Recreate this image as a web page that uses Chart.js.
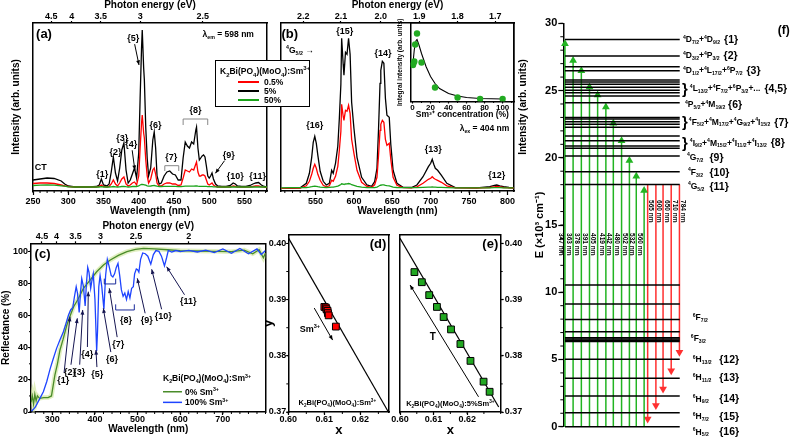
<!DOCTYPE html>
<html>
<head>
<meta charset="utf-8">
<script src="https://cdn.jsdelivr.net/npm/chart.js@4.4.1/dist/chart.umd.min.js"></script>
<style>
  body { margin: 0; background: #fff; }
  #wrap { position: relative; width: 799px; height: 441px; overflow: hidden; background: #fff; }
  canvas { position: absolute; }
  #legA { position: absolute; left: 215px; top: 60px; width: 95px; height: 47px; box-sizing: border-box;
          border: 1px solid #000; background: #fff; z-index: 5;
          font: bold 8.5px 'Liberation Sans', Arial, sans-serif; color: #000; }
  #legA div { position: absolute; white-space: nowrap; line-height: 10px; }
  #legA sub, #legA sup { font-size: 6px; line-height: 0; }
  #legA span { position: absolute; left: 22px; top: 4px; width: 21px; height: 2px; }
</style>
</head>
<body>
<div id="wrap">
  <canvas id="cA" width="272" height="222" style="left:0;top:-2px"></canvas>
  <canvas id="cB" width="262" height="222" style="left:270px;top:-2px"></canvas>
  <canvas id="cI" width="122" height="105" style="left:396px;top:18px"></canvas>
  <canvas id="cC" width="272" height="226" style="left:0;top:215px"></canvas>
  <canvas id="cD" width="145" height="226" style="left:250px;top:215px"></canvas>
  <canvas id="cE" width="150" height="226" style="left:380px;top:215px"></canvas>
  <canvas id="cF" width="269" height="441" style="left:530px;top:0"></canvas>
  <div id="legA">
    <div style="left:4px;top:5px">K<sub>2</sub>Bi(PO<sub>4</sub>)(MoO<sub>4</sub>):Sm<sup>3+</sup></div>
    <div style="left:0;top:16px;width:90px;height:10px"><span style="background:#ff0000"></span><b style="position:absolute;left:48px">0.5%</b></div>
    <div style="left:0;top:25px;width:90px;height:10px"><span style="background:#000"></span><b style="position:absolute;left:48px">5%</b></div>
    <div style="left:0;top:34px;width:90px;height:10px"><span style="background:#1aa31a"></span><b style="position:absolute;left:48px">50%</b></div>
  </div>
</div>
<script>
const FONT = "'Liberation Sans', Arial, sans-serif";

// ============================
// DATA
// ============================

// (a) excitation, lambda_em = 598 nm
const wlA = [250,260,270,280,290,295,300,310,320,330,
             340,344,347,350,355,358,361,364,367,370,
             373,376,379,382,385,388,391,394,397,400,
             402,404,405,407,408,410,412,414,417,420,
             422,424,426,429,432,436,440,444,448,452,
             456,460,463,466,469,472,475,478,481,482,
             484,486,488,490,492,494,496,498,500,502,
             504,506,509,512,518,524,530,534,537,540,
             546,552,558,562,566,570,574,578,582];
const exc5 = [8,9,10,9.5,7,4,2,1,1,1,
              1.5,3,9,3,2,4,16,31,15,7,
              20,38,45,18,5,8,14,20,10,35,
              90,140,158,120,108,60,30,12,20,48,
              56,40,12,4,5,12,16,17,14,13,
              8,8,30,46,42,40,46,44,58,61,
              40,28,30,32,33,31,22,12,10,12,
              15,9,4,2,1.5,1.5,2.5,5,4,2,
              1.5,1.5,2.5,4,5,5.5,3,1.5,1];
const exc05 = [4.5,5,5,4.5,3,2,1.5,1,1,1,
               1,1.5,3,1.5,1,1.5,4,8,4,2,
               5,9,11,4,2,3,5,6,3,12,
               40,65,73,55,50,28,12,5,9,18,
               20,14,5,2,2,4,5,5,4,4,
               2.5,3,10,18,17,16,19,18,24,26,
               16,12,12,13,13,12,8,4,3,4,
               5,3,1.5,1,1,1,1,2,1.5,1,
               0.8,0.8,1,1.5,2,2,1.2,0.8,0.5];
const exc50 = [2.5,2.8,3,2.8,2.2,1.8,1.2,1,1,1,
               1,1,1.3,1,1,1,1.2,1.5,1.2,1,
               1.2,1.5,1.7,1.3,1,1.2,1.5,1.7,1.5,2,
               3,3.5,3.6,3.4,3.2,2.8,2.2,1.8,2,2.4,
               2.5,2.2,1.8,1.5,1.5,1.6,1.7,1.7,1.6,1.6,
               1.4,1.4,1.6,1.8,1.8,1.8,1.9,1.9,2,2,
               1.8,1.7,1.7,1.7,1.7,1.7,1.6,1.4,1.3,1.3,
               1.3,1.2,1.1,1,1,1,1,1.1,1,1,
               1,1,1,1,1,1,1,1,1];
const ticksA = [250,300,350,400,450,500,550];
const evA = ['4.5','4','3.5','3','2.5'];
const evPosA = [276,305,346,402,491];

// (b) emission, lambda_ex = 404 nm
const wlB = [505,520,530,538,542,545,547,549,551,553,
             556,560,564,568,571,573,576,579,581,583,
             584,586,587,589,591,593,595,597,600,604,
             610,617,623,627,630,632,634,635,637,639,
             641,643,646,648,651,656,664,675,682,690,
             697,700,702,704,706,709,714,721,732,760,
             777,783,786,790,795,802,808];
const em5 = [0,0.3,0.5,5,15,31,46,52,45,33,
             17,7,3.3,5,18,15,25,42,70,104,
             150,124,113,136,134,150,134,86,60,31,
             11,3.3,2,6.6,20,58,105,118,127,125,
             90,73,71,44,18,5,1,0.8,3.3,11.6,
             21.6,25,29,24,20,18,13,5,0.7,0.5,
             1.6,3,3.3,2.5,1.6,0.8,0.5];
const em05 = [0,0.2,0.3,2.5,7,14,20,24,20,14,
              8,3,1.5,2.5,8,7,12,22,38,57,
              84,72,68,78,77,83,75,49,35,18,
              6,1.8,1,3.5,11,32,58,64,68,66,
              49,43,45,29,11,3,0.6,0.5,1.5,5,
              9,10,11.6,10,9,8,6,2.5,0.4,0.3,
              0.8,1.5,1.8,1.3,0.8,0.4,0.3];
const em50 = [0.5,0.6,0.6,0.8,1.2,1.6,2,2.2,2,1.6,
              1.2,0.9,0.8,0.9,1.2,1.2,1.6,2.2,3,3.8,
              4.5,4.2,4,4.3,4.4,4.8,4.5,3.6,3,2,
              1.2,0.8,0.7,0.8,1.2,2,3,3.3,3.5,3.5,
              3,2.6,2.5,2,1.2,0.8,0.6,0.6,0.7,0.9,
              1.1,1.2,1.3,1.2,1.1,1,0.9,0.7,0.5,0.5,
              0.5,0.6,0.6,0.6,0.5,0.5,0.5];
const ticksB = [550,600,650,700,750,800];
const evB = ['2.2','2.1','2.0','1.9','1.8','1.7'];
const evPosB = [534,583,635,685,735,784];

// (b) inset: integral intensity vs Sm3+ concentration
const conc = [0.5,1,2,3,5,10,25,50,75,100];
const integ = [36.5,38,40,57,68,39,14,4,2.5,2.5];
const fitConc = [0.5,2,4,5,7,10,15,20,25,30,40,50,60,75,100];
const fitVal = [38,52,61,62,57,48,35,25,18,13,8,5.5,4,3,2.5];
const ticksI = [0,20,40,60,80,100];

// (c) diffuse reflectance
const wlC0 = [250,253,256,259,262,265,270,280,290,298,
              306,312,318,325,334,342,350,360,373,390,
              404,420,436,455,475,495,514,540,570,600,
              640,680,720,750,770,785,795,800];
const refl0 = [6,10,5,11,7,10,8.5,9,9,10,
               23,30,38.6,45,54,60,65.5,70,77,82.5,
               87.3,91.5,94.6,97.5,99.8,101.2,101.9,101.5,101,100.5,
               100.2,100,99.8,100.8,98.5,101,96,99];
const wlC100 = [251,255,260,265,270,279,287,295,302,310,
                318,326,332,338,343,348,352,356,359,363,
                366,369,373,377,380,383,386,390,393,396,
                400,404,406,409,412,416,421,425,429,433,
                438,442,446,450,454,458,462,466,470,474,
                478,482,486,490,493,497,500,503,507,512,
                518,524,531,537,543,550,556,563,568,572,
                580,590,600,620,640,660,680,700,720,740,
                760,780,790,800];
const refl100 = [0.5,1.5,3,5.5,8,12.6,19,27,33,39.6,
                 45,50,55,60.4,63.5,65,72,78,74,62,
                 74,83,78,66,80,90,87,77,82,86,
                 70,38,50,78,85,78,64,85,95,91,
                 85,84,86,90,92.5,85,76,72,74,70,
                 75,71,77,78,86,89,88.5,87,95,99,
                 98.5,97,92,98,100.5,100,97,91,96,100.5,
                 99.5,100.5,99.8,100.6,99.6,100.8,99.2,101.5,98.8,101.8,
                 98.5,101.5,98,100.5];
const ticksC = [300,400,500,600,700];
const ticksCy = [0,20,40,60,80,100];
const evC = ['4.5','4','3.5','3','2.5','2'];
const evPosC = [275.6,310,354.3,413.3,496,620];

// (d) CIE vs Sm3+ content, (e) CIE vs temperature
const cieDx = [0.6100,0.6104,0.6106,0.6109,0.6110,0.6112,0.6132];
const cieDy = [0.3887,0.3886,0.3883,0.3880,0.3876,0.3872,0.3852];
const lineDx = [0.6001,0.6277];
const lineDy = [0.4009,0.3701];
const cieEx = [0.6043,0.6065,0.6087,0.6110,0.6130,0.6152,0.6180,0.6210,0.6249,0.6267];
const cieEy = [0.3949,0.3931,0.3908,0.3887,0.3869,0.3847,0.3821,0.3791,0.3754,0.3736];
const lineEx = [0.6000,0.6294];
const lineEy = [0.4009,0.3709];
const ticksXY = [0.60,0.61,0.62];
const ticksYY = [0.37,0.38,0.39,0.40];

// (f) energy levels (x10^3 cm-1)
const fLevels = [28.8,27.56,26.77,26.47,25.78,25.63,25.46,25.24,25.03,24.83,24.59,24.09,
                 23.0,22.88,22.68,22.5,22.27,21.61,21.26,20.87,20.7,20.13,18.96,18.02,
                 10.54,9.12,7.98,7.06,6.62,6.52,6.42,6.33,5.01,3.6,2.28,1.04,0];
const exX = [1.7,10,18.4,26.7,35,43.4,51,59.4,67.4,74.4,82.4];
const exTop = [28.8,27.56,26.8,25.6,25.0,24.1,22.9,21.6,20.13,18.96,17.9];
const exNm = ['347 nm','363 nm','378 nm','391 nm','405 nm','419 nm','442 nm','480 nm','502 nm','532 nm','560 nm'];
const emX = [86,94.4,101.7,110,118.4];
const emFrom = 18.02;
const emEnd = [0.25,1.24,2.48,3.84,5.2];
const emNm = ['565 nm','600 nm','650 nm','710 nm','784 nm'];
const fTerm = ['^4D_{7/2}+^4D_{9/2}','^4D_{3/2}+^4P_{3/2}','^4D_{1/2}+^4L_{17/2}+^6P_{7/2}',
               '^4L_{13/2}+^4F_{7/2}+^6P_{3/2}+...','^4P_{5/2}+^4M_{19/2}',
               '^4F_{5/2}+^4M_{17/2}+^4G_{9/2}+^4I_{15/2}','^4I_{9/2}+^4M_{15/2}+^4I_{11/2}+^4I_{13/2}',
               '^4G_{7/2}','^4F_{3/2}','^4G_{5/2}','^6F_{7/2}','^6F_{3/2}',
               '^6H_{13/2}','^6H_{11/2}','^6H_{9/2}','^6H_{7/2}','^6H_{5/2}'];
const fIdx = ['{1}','{2}','{3}','{4,5}','{6}','{7}','{8}','{9}','{10}','{11}','','',
              '{12}','{13}','{14}','{15}','{16}'];
const fBrace = [0,0,0,1,0,1,1,0,0,0,0,0,0,0,0,0,0];
const fLabE = [28.8,27.64,26.52,25.16,23.99,22.68,21.12,20.07,18.96,17.9,8.13,6.57,5.01,3.67,2.09,0.79,-0.37];
const fLabX = [122,122,122,129,124,128,129,126,127,127,132,130,132,132,132,132,132];
const fIdxX = [null,null,null,null,168,null,null,149,149,149,null,null,159,159,159,159,159];


// ============================
// HELPERS
// ============================

Chart.defaults.font.family = FONT;
Chart.defaults.font.weight = 'bold';
Chart.defaults.font.size = 9;
Chart.defaults.color = '#000';
Chart.defaults.animation = false;
Chart.defaults.responsive = false;
Chart.defaults.devicePixelRatio = 1;
Chart.defaults.events = [];
Chart.defaults.plugins.legend.display = false;
Chart.defaults.plugins.tooltip.enabled = false;
Chart.defaults.elements.point.radius = 0;

function drawRich(ctx, str, x, y, size, align, rot, smallK) {
    const segs = [];
    let buf = '';
    for (let i = 0; i < str.length; i++) {
        const c = str[i];
        if (c === '^' || c === '_') {
            if (buf) segs.push({ t: buf, k: 0 });
            buf = '';
            let t;
            if (str[i + 1] === '{') {
                const j = str.indexOf('}', i);
                t = str.slice(i + 2, j);
                i = j;
            } else {
                t = str[i + 1];
                i++;
            }
            segs.push({ t: t, k: c === '^' ? 1 : -1 });
        } else {
            buf += c;
        }
    }
    if (buf) segs.push({ t: buf, k: 0 });

    const small = size * (smallK || 0.62);
    let w = 0;
    segs.forEach(s => {
        ctx.font = 'bold ' + (s.k ? small : size) + 'px ' + FONT;
        s.w = ctx.measureText(s.t).width;
        w += s.w;
    });
    ctx.save();
    ctx.translate(x, y);
    if (rot) ctx.rotate(rot);
    ctx.textAlign = 'left';
    ctx.textBaseline = 'alphabetic';
    let cx = align === 'left' ? 0 : align === 'right' ? -w : -w / 2;
    const base = size * 0.36;
    segs.forEach(s => {
        ctx.font = 'bold ' + (s.k ? small : size) + 'px ' + FONT;
        const dy = s.k === 1 ? -size * 0.42 : s.k === -1 ? size * 0.2 : 0;
        ctx.fillText(s.t, cx, base + dy);
        cx += s.w;
    });
    ctx.restore();
    return w;
}

function arrow(ctx, x1, y1, x2, y2, head) {
    ctx.beginPath();
    ctx.moveTo(x1, y1);
    ctx.lineTo(x2, y2);
    ctx.stroke();
    const a = Math.atan2(y2 - y1, x2 - x1);
    ctx.beginPath();
    ctx.moveTo(x2, y2);
    ctx.lineTo(x2 - head * Math.cos(a - 0.4), y2 - head * Math.sin(a - 0.4));
    ctx.lineTo(x2 - head * Math.cos(a + 0.4), y2 - head * Math.sin(a + 0.4));
    ctx.closePath();
    ctx.fill();
}

const notes = {};
const minor = {};

const notesPlugin = {
    id: 'notes',
    afterDraw(chart) {
        const items = notes[chart.canvas.id];
        if (!items) return;
        const ctx = chart.ctx;
        const X = chart.scales.x, Y = chart.scales.y;
        const px = v => X.getPixelForValue(v);
        const py = v => Y.getPixelForValue(v);
        ctx.save();
        items.forEach(it => {
            const c = it.c || '#000';
            ctx.fillStyle = c;
            ctx.strokeStyle = c;
            ctx.lineWidth = it.w || 1;
            if (it.k === 't') {
                drawRich(ctx, it.s, px(it.x), py(it.y), it.fs || 9, it.al || 'center', it.rot || 0);
            } else if (it.k === 'la') {
                const lx = px(it.x), ly = py(it.y);
                const x2 = px(it.tx), y2 = py(it.ty);
                drawRich(ctx, it.s, lx, ly, it.fs || 9, 'center', 0);
                ctx.fillStyle = it.ac || '#000';
                ctx.strokeStyle = it.ac || '#000';
                const d = Math.hypot(x2 - lx, y2 - ly);
                arrow(ctx, lx + (x2 - lx) * 7 / d, ly + (y2 - ly) * 7 / d, x2, y2, 5);
            } else if (it.k === 'a') {
                arrow(ctx, px(it.x), py(it.y), px(it.tx), py(it.ty), 5);
            } else if (it.k === 'b') {
                ctx.beginPath();
                ctx.moveTo(px(it.x1), py(it.y2));
                ctx.lineTo(px(it.x1), py(it.y));
                ctx.lineTo(px(it.x2), py(it.y));
                ctx.lineTo(px(it.x2), py(it.y2));
                ctx.stroke();
            } else if (it.k === 'l') {
                ctx.beginPath();
                ctx.moveTo(px(it.x1), py(it.y1));
                ctx.lineTo(px(it.x2), py(it.y2));
                ctx.stroke();
            } else if (it.k === 'lv') {
                const w = drawRich(ctx, it.s, px(it.x), py(it.y), 8.5, 'left', 0, 0.6);
                const nx = it.nx === null ? px(it.x) + w + 4 : px(it.nx);
                drawRich(ctx, it.n, nx, py(it.y), 10.5, 'left', 0);
            }
        });
        ctx.restore();
    }
};

// short ticks between the labelled ones
const minorPlugin = {
    id: 'minorTicks',
    afterDraw(chart) {
        const spec = minor[chart.canvas.id];
        if (!spec) return;
        const ctx = chart.ctx;
        const a = chart.chartArea;
        ctx.save();
        ctx.strokeStyle = '#000';
        ctx.lineWidth = 1;
        spec.forEach(([id, step, len]) => {
            const s = chart.scales[id];
            const n0 = Math.ceil(s.min / step - 1e-9), n1 = Math.floor(s.max / step + 1e-9);
            for (let n = n0; n <= n1; n++) {
                const p = s.getPixelForValue(n * step);
                ctx.beginPath();
                if (s.position === 'bottom') { ctx.moveTo(p, a.bottom); ctx.lineTo(p, a.bottom + len); }
                else if (s.position === 'top') { ctx.moveTo(p, a.top); ctx.lineTo(p, a.top - len); }
                else if (s.position === 'left') { ctx.moveTo(a.left, p); ctx.lineTo(a.left - len, p); }
                else { ctx.moveTo(a.right, p); ctx.lineTo(a.right + len, p); }
                ctx.stroke();
            }
        });
        ctx.restore();
    }
};

function ax(o) {
    const hasLabels = !!o.labels;
    const hasTicks = !!(o.ticks && o.ticks.length);
    return {
        type: 'linear',
        position: o.pos,
        min: o.min,
        max: o.max,
        afterBuildTicks: s => { s.ticks = (o.ticks || []).map(v => ({ value: v })); },
        afterFit: s => { if (s.isHorizontal()) s.height = o.size; else s.width = o.size; },
        ticks: {
            display: hasLabels,
            autoSkip: false,
            maxRotation: 0,
            minRotation: 0,
            padding: o.pad || 0,
            color: '#000',
            font: { size: o.fs || 9, weight: 'bold', lineHeight: 1 },
            callback: (v, i) => hasLabels ? o.labels[i] : ''
        },
        grid: { display: true, drawOnChartArea: false, drawTicks: hasTicks, tickLength: o.tl || 3, tickColor: '#000', tickWidth: 1.2 },
        border: { display: true, color: '#000', width: 1.5 },
        title: o.title ? {
            display: true, text: o.title, color: '#000',
            font: { size: o.tfs || 10, weight: 'bold', lineHeight: 1 },
            padding: o.tp || 0
        } : { display: false }
    };
}

function ln(xs, ys, color, w) {
    return {
        data: xs.map((x, i) => ({ x: x, y: ys[i] })),
        showLine: true,
        borderColor: color,
        backgroundColor: color,
        borderWidth: w || 1.3,
        pointRadius: 0,
        tension: 0
    };
}

function pts(xs, ys, fill, style, r) {
    return {
        data: xs.map((x, i) => ({ x: x, y: ys[i] })),
        showLine: false,
        pointStyle: style,
        pointRadius: r,
        backgroundColor: fill,
        borderColor: '#000',
        pointBackgroundColor: fill,
        pointBorderColor: style === 'circle' ? fill : '#000',
        pointBorderWidth: style === 'circle' ? 0 : 1
    };
}

function chart(id, datasets, scales, layout) {
    return new Chart(document.getElementById(id), {
        type: 'scatter',
        data: { datasets: datasets },
        options: { scales: scales, layout: { padding: layout || 0 } },
        plugins: [minorPlugin, notesPlugin]
    });
}


// ============================
// (a) EXCITATION
// ============================

notes.cA = [
    { k: 't', x: 265.6, y: 154.7, s: '(a)', fs: 13 },
    { k: 't', x: 527, y: 154, s: 'λ_{em} = 598 nm', fs: 8.5 },
    { k: 'la', x: 392.2, y: 150.7, s: '{5}', tx: 400.4, ty: 123 },
    { k: 't', x: 423.8, y: 63, s: '{6}' },
    { k: 't', x: 376.6, y: 50.3, s: '{3}' },
    { k: 't', x: 367.1, y: 36.3, s: '{2}' },
    { k: 'la', x: 389.4, y: 44.7, s: '{4}', tx: 394.5, ty: 18 },
    { k: 't', x: 348.3, y: 14.7, s: '{1}' },
    { k: 't', x: 261, y: 21.3, s: 'CT' },
    { k: 't', x: 446, y: 31.3, s: '{7}' },
    { k: 'b', x1: 437, x2: 456.8, y: 22.3, y2: 17, c: '#888' },
    { k: 't', x: 480.5, y: 78, s: '{8}' },
    { k: 'b', x1: 463, x2: 497.9, y: 69, y2: 63, c: '#888' },
    { k: 'la', x: 527.6, y: 33, s: '{9}', tx: 508.8, ty: 14.7 },
    { k: 't', x: 537, y: 12, s: '{10}' },
    { k: 't', x: 568.7, y: 12, s: '{11}' }
];
minor.cA = [['x', 10, 2]];

chart('cA', [
    ln(wlA, exc50, '#1aa31a'),
    ln(wlA, exc05, '#ff0000'),
    ln(wlA, exc5, '#000000')
], {
    x: ax({ pos: 'bottom', min: 250, max: 582, ticks: ticksA, labels: ticksA.map(String), size: 29, tl: 4, pad: 2,
            title: 'Wavelength (nm)', tp: { top: 0, bottom: 3.3 } }),
    x2: ax({ pos: 'top', min: 250, max: 582, ticks: evPosA, labels: evA, size: 25, tl: 2, pad: 0,
             title: 'Photon energy (eV)', tp: { top: 2, bottom: 0 } }),
    y: ax({ pos: 'left', min: -3, max: 165, size: 33, title: 'Intensity (arb. units)', tp: { top: 11.7, bottom: 0 } }),
    yR: ax({ pos: 'right', min: -3, max: 165, size: 5 })
});


// ============================
// (b) EMISSION
// ============================

notes.cB = [
    { k: 't', x: 516.5, y: 155, s: '(b)', fs: 13 },
    { k: 't', x: 529.5, y: 138.3, s: '^4G_{5/2} →', fs: 8.5 },
    { k: 't', x: 549, y: 63.3, s: '{16}' },
    { k: 't', x: 588, y: 158, s: '{15}' },
    { k: 't', x: 638, y: 136, s: '{14}' },
    { k: 't', x: 703.3, y: 40, s: '{13}' },
    { k: 't', x: 786, y: 13.3, s: '{12}' },
    { k: 't', x: 770, y: 60.3, s: 'λ_{ex} = 404 nm', fs: 8.5 },
    { k: 't', x: 819, y: 81.3, s: 'Intensity (arb. units)', fs: 10, rot: -Math.PI / 2 }
];
minor.cB = [['x', 10, 2]];

chart('cB', [
    ln(wlB, em50, '#1aa31a'),
    ln(wlB, em05, '#ff0000'),
    ln(wlB, em5, '#000000')
], {
    x: ax({ pos: 'bottom', min: 505, max: 808.5, ticks: ticksB, labels: ticksB.map(String), size: 29, tl: 4, pad: 2,
            title: 'Wavelength (nm)', tp: { top: 0, bottom: 3.3 } }),
    x2: ax({ pos: 'top', min: 505, max: 808.5, ticks: evPosB, labels: evB, size: 25, tl: 2, pad: 0,
             title: 'Photon energy (eV)', tp: { top: 2, bottom: 0 } }),
    y: ax({ pos: 'left', min: -2.7, max: 165.3, size: 11 }),
    yR: ax({ pos: 'right', min: -2.7, max: 165.3, size: 18 })
});

// inset
minor.cI = [['x', 10, 1.5]];
chart('cI', [
    pts(conc, integ, '#22aa22', 'circle', 3.2),
    ln(fitConc, fitVal, '#000', 1.1)
], {
    x: ax({ pos: 'bottom', min: -2, max: 112.6, ticks: ticksI, labels: ticksI.map(String), size: 21.5, tl: 2, pad: 0, fs: 8,
            title: 'Sm³⁺ concentration (%)', tfs: 8.5, tp: { top: 0, bottom: 4.5 } }),
    x2: ax({ pos: 'top', min: -2, max: 112.6, size: 5 }),
    y: ax({ pos: 'left', min: 0, max: 78.5, size: 14.7, title: 'Integral intensity (arb. units)', tfs: 6.5, tp: { top: 0.5, bottom: 0 } }),
    yR: ax({ pos: 'right', min: 0, max: 78.5, size: 4 })
});


// ============================
// (c) REFLECTANCE
// ============================

const NAVY = '#151550';
notes.cC = [
    { k: 't', x: 277, y: 98.8, s: '(c)', fs: 13 },
    { k: 'la', x: 325.8, y: 19.9, s: '{1}', tx: 341.5, ty: 59.3, ac: NAVY },
    { k: 'la', x: 341.5, y: 25.1, s: '{2}', tx: 358.6, ty: 58.3, ac: NAVY },
    { k: 'la', x: 363.3, y: 25.1, s: '{3}', tx: 371.2, ty: 63.5, ac: NAVY },
    { k: 'la', x: 382, y: 36.1, s: '{4}', tx: 384.4, ty: 74.9, ac: NAVY },
    { k: 'la', x: 405.5, y: 23.6, s: '{5}', tx: 402.4, ty: 38.6, ac: NAVY },
    { k: 'la', x: 440, y: 33, s: '{6}', tx: 419.6, ty: 64.5, ac: NAVY },
    { k: 'la', x: 454.7, y: 42.3, s: '{7}', tx: 433.6, ty: 77, ac: NAVY },
    { k: 't', x: 472.8, y: 57.7, s: '{8}' },
    { k: 'b', x1: 421.9, x2: 448.6, y: 79.7, y2: 83, c: '#1a2a9a' },
    { k: 'b', x1: 448.6, x2: 492.3, y: 63.5, y2: 67, c: '#1a2a9a' },
    { k: 'la', x: 521.3, y: 57.2, s: '{9}', tx: 499.3, ty: 83.2, ac: NAVY },
    { k: 'la', x: 560.3, y: 59.7, s: '{10}', tx: 533.1, ty: 88.8, ac: NAVY },
    { k: 'la', x: 618.9, y: 69.3, s: '{11}', tx: 568.2, ty: 90.4, ac: NAVY },
    { k: 't', x: 662.8, y: 21, s: 'K_2Bi(PO_4)(MoO_4):Sm^{3+}', fs: 8.5 },
    { k: 'l', x1: 559.6, y1: 12.6, x2: 604.1, y2: 12.6, c: '#4a8c2a', w: 1.5 },
    { k: 't', x: 611.2, y: 12.6, s: '0% Sm^{3+}', fs: 8.5, al: 'left' },
    { k: 'l', x1: 559.6, y1: 6, x2: 604.1, y2: 6, c: '#1e44ff', w: 1.5 },
    { k: 't', x: 611.2, y: 6, s: '100% Sm^{3+}', fs: 8.5, al: 'left' }
];
minor.cC = [['x', 20, 2], ['y', 10, 2]];

chart('cC', [
    ln(wlC100, refl100, '#1e44ff', 1.3),
    ln(wlC0, refl0, '#4a8c2a', 1.3),
    ln(wlC0, refl0, 'rgba(205,228,150,0.6)', 4.5)
], {
    x: ax({ pos: 'bottom', min: 250, max: 800, ticks: ticksC, labels: ticksC.map(String), size: 29, tl: 3, pad: 0,
            title: 'Wavelength (nm)', tp: { top: 0, bottom: 6.5 } }),
    x2: ax({ pos: 'top', min: 250, max: 800, ticks: evPosC, labels: evC, size: 28.3, tl: 2, pad: 0,
             title: 'Photon energy (eV)', tp: { top: 6, bottom: 0 } }),
    y: ax({ pos: 'left', min: 0, max: 105, ticks: ticksCy, labels: ticksCy.map(String), size: 31, tl: 3, pad: 0,
            title: 'Reflectance (%)', tp: { top: 1.7, bottom: 0 } }),
    yR: ax({ pos: 'right', min: 0, max: 105, size: 6.5 })
});


// ============================
// (d), (e) CIE COORDINATES
// ============================

const xyLabels = ticksXY.map(v => v.toFixed(2));
const yyLabels = ticksYY.map(v => v.toFixed(2));

notes.cD = [
    { k: 't', x: 0.6249, y: 0.4000, s: '(d)', fs: 13 },
    { k: 'a', x: 0.6072, y: 0.3885, tx: 0.6123, ty: 0.3828 },
    { k: 't', x: 0.6060, y: 0.3849, s: 'Sm^{3+}', fs: 9 },
    { k: 't', x: 0.6136, y: 0.3717, s: 'K_2Bi(PO_4)(MoO_4):Sm^{3+}', fs: 7.5 }
];
minor.cD = [['x', 0.005, 2], ['y', 0.005, 2]];

chart('cD', [
    pts(cieDx, cieDy, '#ff0000', 'rect', 4.8),
    ln(lineDx, lineDy, '#000', 1.2)
], {
    x: ax({ pos: 'bottom', min: 0.6, max: 0.628, ticks: ticksXY, labels: xyLabels, size: 29, tl: 3, pad: 0.5,
            title: 'x', tfs: 13, tp: { top: 0, bottom: 4.5 } }),
    x2: ax({ pos: 'top', min: 0.6, max: 0.628, size: 20 }),
    y: ax({ pos: 'left', min: 0.37, max: 0.4015, ticks: ticksYY, labels: yyLabels, size: 38.3, tl: 2, pad: 0,
            title: 'y', tfs: 13, tp: { top: 11.5, bottom: 0 } }),
    yR: ax({ pos: 'right', min: 0.37, max: 0.4015, size: 5 })
});

notes.cE = [
    { k: 't', x: 0.6269, y: 0.4000, s: '(e)', fs: 13 },
    { k: 'a', x: 0.6234, y: 0.3727, tx: 0.6030, ty: 0.3926 },
    { k: 't', x: 0.6098, y: 0.3834, s: 'T', fs: 10 },
    { k: 't', x: 0.6150, y: 0.3715, s: 'K_2Bi(PO_4)(MoO_4):5%Sm^{3+}', fs: 7.5 }
];
minor.cE = [['x', 0.005, 2], ['y', 0.005, 2]];

chart('cE', [
    pts(cieEx, cieEy, '#22a822', 'rect', 4.8),
    ln(lineEx, lineEy, '#000', 1.2)
], {
    x: ax({ pos: 'bottom', min: 0.6, max: 0.630, ticks: ticksXY, labels: xyLabels, size: 29, tl: 3, pad: 0.5,
            title: 'x', tfs: 13, tp: { top: 0, bottom: 4.5 } }),
    x2: ax({ pos: 'top', min: 0.6, max: 0.630, size: 20 }),
    y: ax({ pos: 'right', min: 0.37, max: 0.4015, ticks: ticksYY, labels: yyLabels, size: 29.3, tl: 3, pad: 1 }),
    yL: ax({ pos: 'left', min: 0.37, max: 0.4015, size: 20 })
});


// ============================
// (f) ENERGY LEVEL DIAGRAM
// ============================

const fSets = [];
fLevels.forEach(L => fSets.push({
    data: [{ x: 1.7, y: L }, { x: 118.7, y: L }],
    showLine: true, borderColor: '#000', borderWidth: 1.5, pointRadius: 0, clip: false
}));
exX.forEach((x, i) => fSets.push({
    data: [{ x: x, y: 0 }, { x: x, y: exTop[i] - 0.33 }],
    showLine: true, borderColor: '#22b422', backgroundColor: '#22b422', borderWidth: 1.5,
    pointRadius: [0, 4.5], pointStyle: 'triangle', pointRotation: 0,
    pointBackgroundColor: '#22b422', pointBorderWidth: 0, clip: false
}));
emX.forEach((x, i) => fSets.push({
    data: [{ x: x, y: emFrom }, { x: x, y: emEnd[i] + 0.33 }],
    showLine: true, borderColor: '#ff3030', backgroundColor: '#ff3030', borderWidth: 1.5,
    pointRadius: [0, 4.5], pointStyle: 'triangle', pointRotation: 180,
    pointBackgroundColor: '#ff3030', pointBorderWidth: 0, clip: false
}));

notes.cF = [{ k: 't', x: 224.7, y: 29.5, s: '(f)', fs: 12 }];
exX.forEach((x, i) => notes.cF.push({ k: 't', x: x - 4, y: 14.4, s: exNm[i], fs: 6.5, al: 'left', rot: Math.PI / 2 }));
emX.forEach((x, i) => notes.cF.push({ k: 't', x: x + 4, y: 16.85, s: emNm[i], fs: 6.5, al: 'left', rot: Math.PI / 2 }));
fTerm.forEach((t, i) => {
    if (fBrace[i]) notes.cF.push({ k: 't', x: 121, y: fLabE[i], s: '}', fs: 15, al: 'left' });
    notes.cF.push({ k: 'lv', x: fLabX[i], y: fLabE[i], s: t, n: fIdx[i], nx: fIdxX[i] });
});
minor.cF = [['y', 1, 3]];

chart('cF', fSets, {
    x: { type: 'linear', display: false, min: 0, max: 235.7 },
    y: ax({ pos: 'left', min: 0, max: 30, ticks: [0, 5, 10, 15, 20, 25, 30], labels: ['0', '5', '10', '15', '20', '25', '30'],
            size: 33.3, tl: 5, pad: 1, fs: 11, title: 'E (×10³ cm⁻¹)', tfs: 11, tp: { top: 4.5, bottom: 0 } })
}, { top: 23.3, bottom: 14.3, left: 0, right: 0 });
</script>
</body>
</html>
